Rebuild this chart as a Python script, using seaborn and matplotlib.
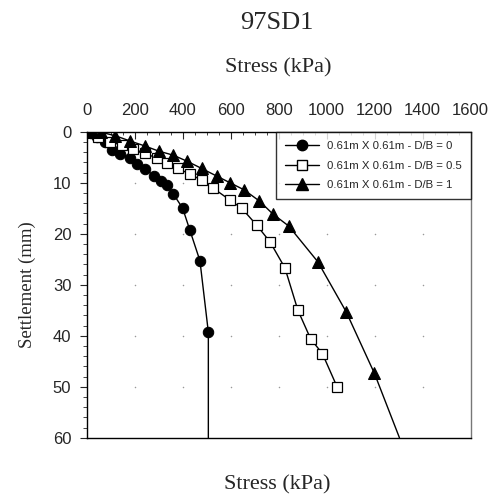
import numpy as np
import pandas as pd
import seaborn as sns
import matplotlib.pyplot as plt
from matplotlib.ticker import MultipleLocator
from matplotlib.lines import Line2D

sns.set_style("ticks")
plt.rcParams['font.family'] = ['Liberation Sans', 'DejaVu Sans']

# load tests, 0.61m x 0.61m footing (last point of each list = line end, no marker)
stress_db0 = [0, 20, 45, 75, 104, 140, 180, 210, 243, 280, 310, 335, 361, 400, 430, 472, 507, 507]
settle_db0 = [0, 0.3, 1.0, 2.0, 3.6, 4.3, 5.2, 6.3, 7.3, 8.6, 9.6, 10.5, 12.2, 15.0, 19.3, 25.3, 39.3, 60]

stress_db05 = [0, 48, 97, 146, 194, 243, 292, 333, 380, 430, 479, 528, 597, 646, 708, 764, 826,
               880, 933, 982, 1044]
settle_db05 = [0, 1.0, 2.0, 2.6, 3.4, 4.2, 5.2, 6.2, 7.2, 8.3, 9.5, 11.1, 13.4, 15.0, 18.3, 21.6, 26.7,
               35.0, 40.6, 43.5, 50.1]

stress_db1 = [0, 27, 60, 120, 180, 243, 300, 361, 419, 479, 542, 597, 656, 720, 775, 842, 963,
              1081, 1199, 1303]
settle_db1 = [0, 0, 0.1, 0.8, 1.8, 2.8, 3.8, 4.6, 5.8, 7.2, 8.7, 10.0, 11.4, 13.6, 16.1, 18.5, 25.5,
              35.3, 47.4, 60]

labels = ['0.61m X 0.61m - D/B = 0', '0.61m X 0.61m - D/B = 0.5', '0.61m X 0.61m - D/B = 1']

fig = plt.figure(figsize=(4.95, 4.98), dpi=100)
ax = fig.add_axes([0.175, 0.121, 0.776, 0.6145])

# faint dots where the major grid lines cross
gx, gy = np.meshgrid(np.arange(200, 1600, 200), np.arange(10, 60, 10))
ax.scatter(gx.ravel(), gy.ravel(), s=1.2, color='#999999', linewidths=0, zorder=1)

sns.lineplot(x=stress_db0, y=settle_db0, ax=ax, sort=False, estimator=None, color='black', lw=1,
             marker='o', markersize=7.5, markerfacecolor='black', markeredgecolor='black',
             markevery=list(range(len(stress_db0) - 1)))
sns.lineplot(x=stress_db05, y=settle_db05, ax=ax, sort=False, estimator=None, color='black', lw=1,
             marker='s', markersize=7, markerfacecolor='white', markeredgecolor='black', markeredgewidth=0.9)
sns.lineplot(x=stress_db1, y=settle_db1, ax=ax, sort=False, estimator=None, color='black', lw=1,
             marker='^', markersize=8, markerfacecolor='black', markeredgecolor='black',
             markevery=list(range(len(stress_db1) - 1)))

ax.set_xlim(0, 1600)
ax.set_ylim(60, 0)
ax.xaxis.set_major_locator(MultipleLocator(200))
ax.xaxis.set_minor_locator(MultipleLocator(50))
ax.yaxis.set_major_locator(MultipleLocator(10))
ax.yaxis.set_minor_locator(MultipleLocator(2))
ax.xaxis.tick_top()
ax.xaxis.set_label_position('top')
ax.tick_params(axis='x', which='both', direction='in', top=True, bottom=False, labelsize=12, pad=10)
ax.tick_params(axis='x', which='major', length=5)
ax.tick_params(axis='x', which='minor', length=2.5)
ax.tick_params(axis='y', which='major', direction='out', length=5, labelsize=12, pad=6)
ax.tick_params(axis='y', which='minor', direction='out', length=3)

for sp in ax.spines.values():
    sp.set_visible(True)
    sp.set_color('black')
    sp.set_linewidth(1)
ax.spines['right'].set_color('#777777')

ax.set_xlabel('Stress (kPa)', family='Liberation Serif', fontsize=16, labelpad=22)
ax.set_ylabel('Settlement (mm)', family='Liberation Serif', fontsize=13.5, labelpad=12)
fig.text(0.56, 0.953, '97SD1', family='Liberation Serif', fontsize=19, ha='center', va='center')
fig.text(0.56, 0.026, 'Stress (kPa)', family='Liberation Serif', fontsize=16, ha='center', va='center')

handles = [
    Line2D([], [], color='black', lw=1, marker='o', markersize=7.5, markerfacecolor='black'),
    Line2D([], [], color='black', lw=1, marker='s', markersize=7, markerfacecolor='white'),
    Line2D([], [], color='black', lw=1, marker='^', markersize=8, markerfacecolor='black'),
]
leg = ax.legend(handles, labels, loc='upper right', fontsize=8.2, frameon=True, fancybox=False,
                edgecolor='black', borderaxespad=0, handlelength=3.0, labelspacing=0.85,
                borderpad=0.8, handletextpad=0.7)
leg.get_frame().set_linewidth(1)

fig.savefig('out.png', dpi=100)
